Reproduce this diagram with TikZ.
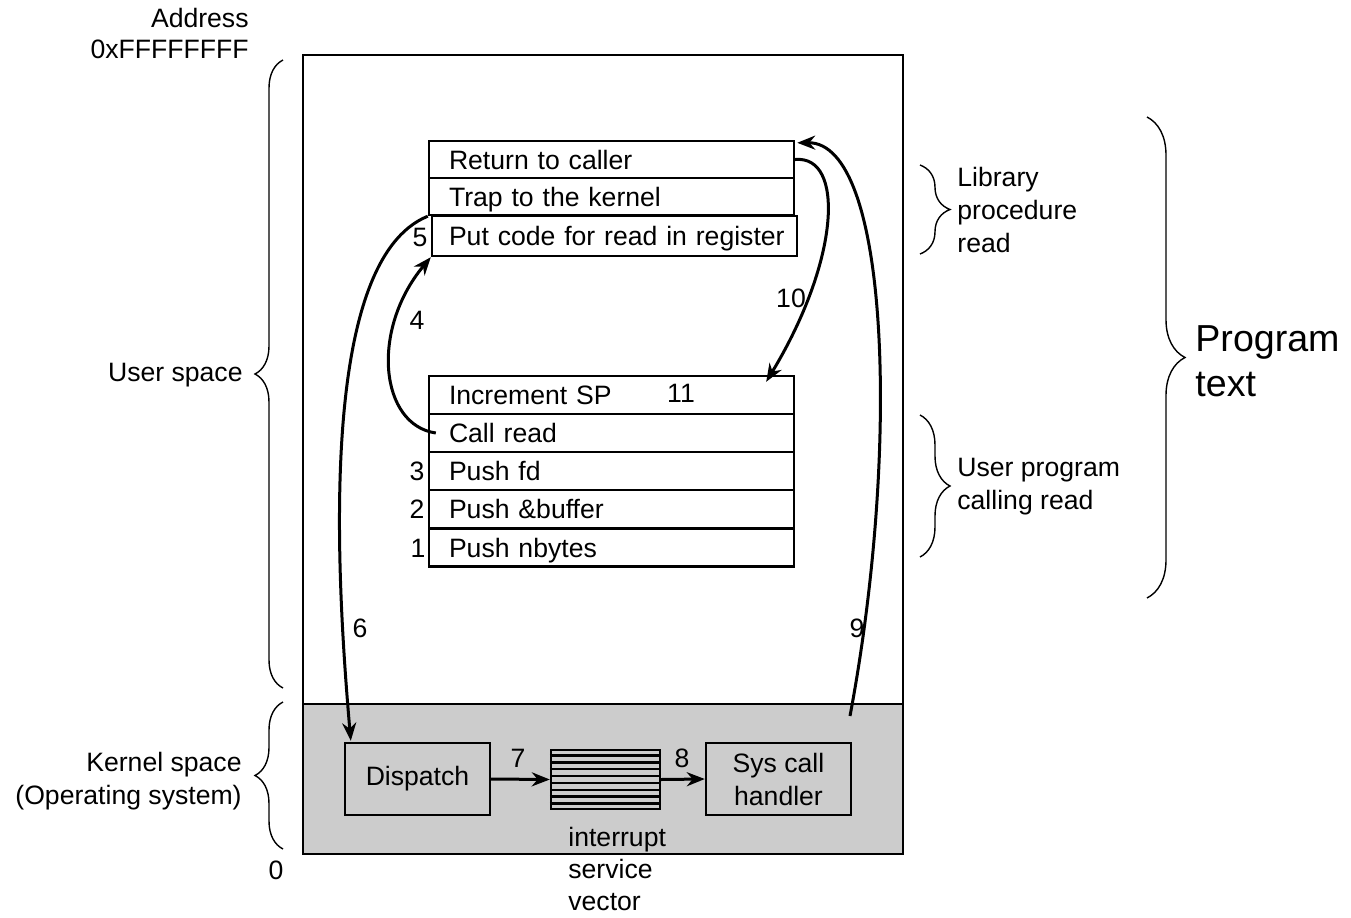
\documentclass[tikz,border=0pt]{standalone}
\usepackage{fontspec}
\setmainfont{Liberation Sans}
\usetikzlibrary{arrows.meta,calc,decorations.pathreplacing}
\definecolor{kgray}{RGB}{204,204,204}
\begin{document}
\begin{tikzpicture}[x=0.5pt,y=-0.5pt,
  every node/.style={font=\fontsize{13.3pt}{16.5pt}\selectfont, inner sep=0pt},
  row/.style={draw, line width=1.2pt, minimum height=18.5pt, text width=172.5pt, inner xsep=5pt, inner ysep=0pt, align=left,
    text height=9.6pt, text depth=0pt, execute at begin node={\hspace*{5pt}}},
  kbox/.style={draw, line width=1.2pt, minimum width=72.5pt, minimum height=36pt, align=center},
  arr/.style={line width=1.5pt, -{Stealth[length=9pt,width=7pt]}},
  brc/.style={line width=0.7pt, decorate, decoration={brace, amplitude=#1}},
  lbl/.style={anchor=center}]
\useasboundingbox (0,0) rectangle (1351,917);
% regions
\draw[line width=1.2pt] (303,55) rectangle (903,704);
\draw[line width=1.2pt, fill=kgray] (303,704) rectangle (903,854);
% library procedure rows
\node[row] (ret) at (611.5,159.5) {Return to caller};
\node[row] (trap) at (611.5,196.5) {Trap to the kernel};
\node[row, minimum height=20pt, execute at begin node={\hspace*{-1.5pt}}] (put) at (614.5,236) {\mbox{Put code for read in register}};
% user program rows
\node[row, minimum height=19pt] (inc) at (611.5,395) {Increment SP};
\node[row, minimum height=19pt] (call) at (611.5,433) {Call read};
\node[row, minimum height=19pt] (pfd) at (611.5,471) {Push fd};
\node[row, minimum height=19pt] (pbuf) at (611.5,509) {Push \&buffer};
\node[row, minimum height=19pt] (pnb) at (611.5,547.5) {Push nbytes};
% kernel boxes
\node[kbox] (disp) at (417.5,779) {Dispatch};
\node[kbox] (hand) at (778.5,779) {Sys call\\handler};
\node[draw, line width=1.2pt, minimum width=54.5pt, minimum height=29.5pt] (vec) at (605.5,779.5) {};
\foreach \i in {1,...,8}
  \draw[line width=1.2pt] ($(vec.north west)!\i/9!(vec.south west)$) -- ($(vec.north east)!\i/9!(vec.south east)$);
\draw[arr] (disp.east) -- (vec.west);
\draw[arr] (vec.east) -- (hand.west);
% step numbers
\node[lbl] (n1) at (418,548) {1};
\node[lbl] (n2) at (417,509) {2};
\node[lbl] (n3) at (417,471) {3};
\node[lbl] (n4) at (417,320) {4};
\node[lbl] (n5) at (420,237) {5};
\node[lbl] (n6) at (360,628) {6};
\node[lbl] (n7) at (518,758) {7};
\node[lbl] (n8) at (682,758) {8};
\node[lbl] (n9) at (857,628) {9};
\node[lbl] (n10) at (791,298) {10};
\node[lbl] (n11) at (681,393) {11};
% curved arrows
\coordinate (c6) at ($(disp.north west)+(7,-1)$);
\draw[arr] (trap.south west) .. controls (320,260) and (335,560) .. (c6);
\coordinate (c4s) at ($(call.west)+(8,0)$);
\draw[arr] (c4s) .. controls (380,425) and (370,330) .. (put.south west);
\coordinate (c9s) at (850,716);
\coordinate (c9e) at ($(ret.north east)+(2,3)$);
\draw[arr] (c9s) .. controls (900,450) and (890,142) .. (c9e);
\coordinate (c10e) at ($(inc.north east)+(-29,7)$);
\draw[arr] (ret.east) .. controls (845,155) and (840,260) .. (c10e);
% left labels
\node[anchor=east] (addr) at (249,18) {Address};
\node[anchor=east] (ffff) at (249,49) {0xFFFFFFFF};
\node[anchor=east] (uspace) at (243,375) {User space};
\node[anchor=east, align=right] (kspace) at (242,781) {Kernel space\\(Operating system)};
\node[lbl] (zero) at (276,870) {0};
\node[anchor=north west, align=left, font=\fontsize{13.3pt}{16pt}\selectfont] (isv) at (568,827) {interrupt\\service\\vector};
% braces
\coordinate (bu1) at (283,688); \coordinate (bu2) at (283,60);
\draw[brc=14pt] (bu1) -- (bu2);
\coordinate (bk1) at (283,849); \coordinate (bk2) at (283,702);
\draw[brc=14pt] (bk1) -- (bk2);
\coordinate (bl1) at (920,165); \coordinate (bl2) at (920,254);
\draw[brc=15pt] (bl1) -- (bl2);
\coordinate (bp1) at (920,415); \coordinate (bp2) at (920,557);
\draw[brc=15pt] (bp1) -- (bp2);
\coordinate (bt1) at (1147,117); \coordinate (bt2) at (1147,598);
\draw[brc=19pt] (bt1) -- (bt2);
% right labels
\node[anchor=west, align=left] (libl) at (957,210) {Library\\procedure\\read};
\node[anchor=west, align=left] (upl) at (957,487) {User program\\calling read};
\node[anchor=west, align=left, font=\fontsize{18.8pt}{22.5pt}\selectfont] (ptext) at (1195,361) {Program\\text};
\end{tikzpicture}
\end{document}
